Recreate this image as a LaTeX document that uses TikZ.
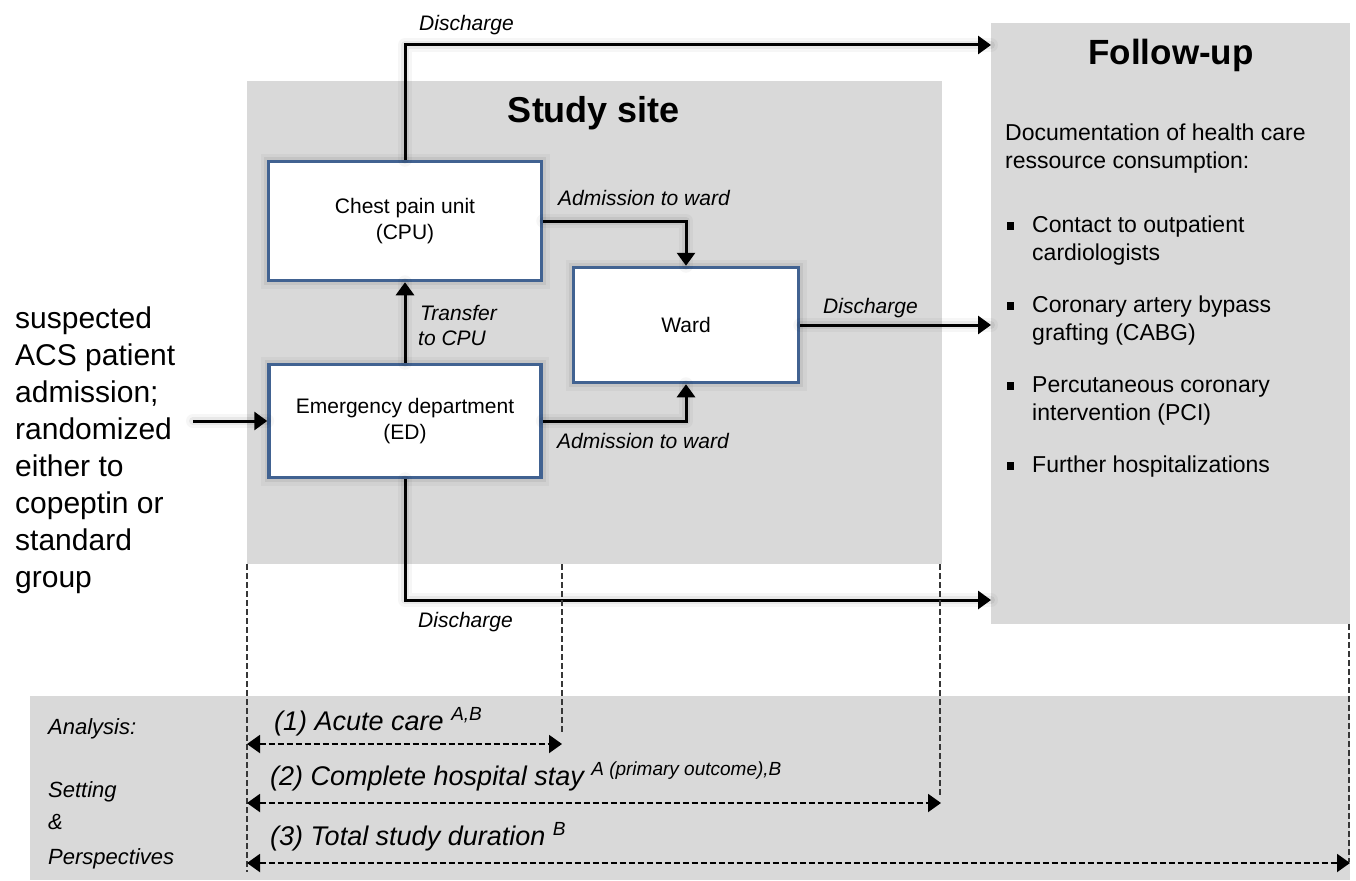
\documentclass[tikz,border=0pt]{standalone}
\usepackage{fontspec}
\setmainfont{Liberation Sans}
\usetikzlibrary{arrows.meta}
\definecolor{bggrey}{RGB}{217,217,217}
\definecolor{boxblue}{RGB}{65,98,145}
\definecolor{dashgrey}{RGB}{55,55,55}
\begin{document}
\begin{tikzpicture}[x=1pt,y=-1pt,
  halo/.style={preaction={draw=black,opacity=0.035,line width=14pt,arrows=-,line join=round,line cap=round},
               preaction={draw=black,opacity=0.06,line width=8pt,arrows=-,line join=round,line cap=round}},
  conn/.style={halo,line width=3pt,-{Triangle[length=13pt,width=18pt]}},
  unitbox/.style={draw=boxblue,line width=3.5pt,fill=white,align=center,
    inner sep=0pt,font=\fontsize{21}{26}\selectfont,
    preaction={draw=black,opacity=0.035,line width=16pt},
    preaction={draw=black,opacity=0.06,line width=9pt}},
  lab/.style={font=\fontsize{21}{25}\selectfont\itshape,inner sep=0pt,anchor=base west,align=left},
  dline/.style={draw=dashgrey,line width=2pt,dash pattern=on 6pt off 3pt},
  darrow/.style={draw=black,line width=2pt,dash pattern=on 6pt off 3pt,
    {Triangle[length=13pt,width=18pt]}-{Triangle[length=13pt,width=18pt]}},
  blab/.style={font=\fontsize{27}{30}\selectfont\itshape,inner sep=0pt,anchor=base west},
  slab/.style={font=\fontsize{22}{26}\selectfont\itshape,inner sep=0pt,anchor=base west},
  futext/.style={font=\fontsize{23}{28}\selectfont,inner sep=0pt,anchor=north west,align=left}
]
\useasboundingbox (0,0) rectangle (1356,880);

% backgrounds
\fill[bggrey] (247,81) rectangle (942,564);
\fill[bggrey] (991,23) rectangle (1350,624);
\fill[bggrey] (30,696) rectangle (1350,880);

% titles
\node[font=\fontsize{36}{40}\selectfont\bfseries,inner sep=0pt,anchor=base] (sstitle) at (594,122) {Study site};
\node[font=\fontsize{35}{40}\selectfont\bfseries,inner sep=0pt,anchor=base] (futitle) at (1171,65) {Follow-up};

% free ends
\coordinate (fuA) at (991,45);
\coordinate (fuB) at (991,325);
\coordinate (fuC) at (991,600);
\coordinate (start) at (193,421);

% boxes
\node[unitbox,minimum width=273pt,minimum height=119pt] (cpu) at (405,221) {Chest pain unit\\(CPU)};
\node[unitbox,minimum width=225pt,minimum height=115pt] (ward) at (686,325) {Ward};
\node[unitbox,minimum width=272pt,minimum height=113pt] (ed) at (405,421) {Emergency department\\(ED)};

% connectors
\draw[conn] (cpu.north) |- (fuA);
\draw[conn] (cpu.east) -| (ward.north);
\draw[conn] (ed.east) -| (ward.south);
\draw[conn] (ed.north) -- (cpu.south);
\draw[conn] (ward.east) -- (fuB);
\draw[conn] (ed.south) |- (fuC);
\draw[conn] (start) -- (ed.west);

% connector labels
\node[lab] (l1) at (419,31) {Discharge};
\node[lab] (l2) at (558,205) {Admission to ward};
\node[lab] (l3) at (557,448) {Admission to ward};
\node[lab] (l4) at (823,313) {Discharge};
\node[lab] (l5) at (420,320) {Transfer};
\node[lab] (l6) at (418,345) {to CPU};
\node[lab] (l7) at (418,627) {Discharge};

% left text
\node[font=\fontsize{30}{37}\selectfont,inner sep=0pt,anchor=north west,align=left] (intro) at (15,307)
  {suspected\\ACS patient\\admission;\\randomized\\either to\\copeptin or\\standard\\group};

% follow-up text
\node[futext] (doc) at (1005,124) {Documentation of health care\\ressource consumption:};
\node[futext] (it1) at (1032,216) {Contact to outpatient\\cardiologists};
\node[futext] (it2) at (1032,296) {Coronary artery bypass\\grafting (CABG)};
\node[futext] (it3) at (1032,376) {Percutaneous coronary\\intervention (PCI)};
\node[futext] (it4) at (1032,456) {Further hospitalizations};
\foreach \yy in {226,306,386,466} \fill (1007,\yy-4) rectangle (1014,\yy+4);

% dashed guide lines
\draw[dline] (247,564) -- (247,872);
\draw[dline] (562,564) -- (562,733);
\draw[dline] (940,564) -- (940,797);
\draw[dline] (1349,624) -- (1349,862);

% analysis arrows
\coordinate (a1l) at (247,744); \coordinate (a1r) at (562,744);
\coordinate (a2l) at (247,803); \coordinate (a2r) at (941,803);
\coordinate (a3l) at (247,863); \coordinate (a3r) at (1350,863);
\draw[darrow] (a1l) -- (a1r);
\draw[darrow] (a2l) -- (a2r);
\draw[darrow] (a3l) -- (a3r);

\node[blab] (b1) at (274,730) {(1) Acute care \raisebox{10pt}{\fontsize{19}{19}\selectfont A,B}};
\node[blab] (b2) at (270,785) {(2) Complete hospital stay \raisebox{10pt}{\fontsize{19}{19}\selectfont A (primary outcome),B}};
\node[blab] (b3) at (270,845) {(3) Total study duration \raisebox{10pt}{\fontsize{19}{19}\selectfont B}};

\node[slab] (s1) at (48,734) {Analysis:};
\node[slab] (s2) at (48,797) {Setting};
\node[slab] (s3) at (48,829) {\&};
\node[slab] (s4) at (48,864) {Perspectives};
\end{tikzpicture}
\end{document}
